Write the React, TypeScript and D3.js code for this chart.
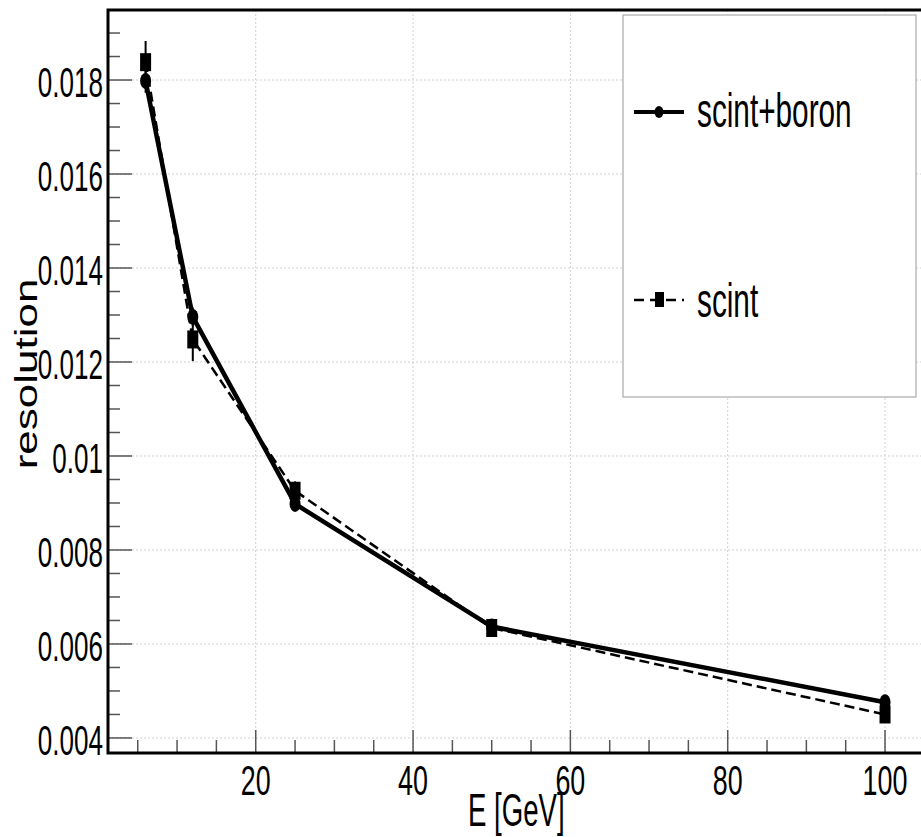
import React from "react";
import * as d3 from "d3";

const energies = [6, 12, 25, 50, 100];
const scintBoron = [0.01798, 0.01296, 0.00898, 0.00637, 0.00476];
const scintBoronErr = [0.00025, 0.0002, 0.00012, 0.00006, 0.00006];
const scint = [0.01838, 0.01248, 0.00926, 0.00634, 0.0045];
const scintErr = [0.00045, 0.00046, 0.0002, 0.00006, 0.00006];
const xTicks = [20, 40, 60, 80, 100];
const yTicks = [0.004, 0.006, 0.008, 0.01, 0.012, 0.014, 0.016, 0.018];
const yTickLabels = ["0.004", "0.006", "0.008", "0.01", "0.012", "0.014", "0.016", "0.018"];
const legendLabels = ["scint+boron", "scint"];

const W = 921;
const H = 837;
const FONT = "'Liberation Sans', Arial, Helvetica, sans-serif";
const SX = 0.62;

export default function App() {
  const left = 108, top = 10, bottom = 753;
  const x = d3.scaleLinear().domain([1.22, 105]).range([left, left + (105 - 1.22) * (885 - 255.7) / 80]);
  const y = d3.scaleLinear().domain([0.00368, 0.01949]).range([bottom, top]);
  const right = x(105);

  const minorX = d3.range(5, 105, 5);
  const minorY = d3.range(0.004, 0.0195, 0.0005).map((v) => +v.toFixed(4));

  const pts = (vals: number[]) => energies.map((e, i) => [x(e), y(vals[i])] as [number, number]);
  const line = d3.line();

  const sbPts = pts(scintBoron);
  const sPts = pts(scint);

  return (
    <svg width={W} height={H} style={{ position: "absolute", left: 0, top: 0, background: "#fff" }}>
      <rect x={0} y={0} width={W} height={H} fill="#fff" />
      {/* grid */}
      {xTicks.map((t) => (
        <line key={"gx" + t} x1={x(t)} x2={x(t)} y1={top} y2={bottom} stroke="#d0d0d0" strokeWidth={1} strokeDasharray="2,2" />
      ))}
      {yTicks.map((t) => (
        <line key={"gy" + t} x1={left} x2={right} y1={y(t)} y2={y(t)} stroke="#d0d0d0" strokeWidth={1} strokeDasharray="2,2" />
      ))}
      {/* ticks */}
      {minorY.map((t) => {
        const major = yTicks.some((m) => Math.abs(m - t) < 1e-7);
        return <line key={"ty" + t} x1={left} x2={left + (major ? 24 : 12)} y1={y(t)} y2={y(t)} stroke="#555" strokeWidth={1.5} />;
      })}
      {minorX.map((t) => {
        const major = t % 20 === 0;
        return <line key={"tx" + t} x1={x(t)} x2={x(t)} y1={bottom} y2={bottom - (major ? 23 : 13)} stroke="#555" strokeWidth={1.5} />;
      })}
      {/* frame */}
      <rect x={left} y={top} width={right - left} height={bottom - top} fill="none" stroke="#000" strokeWidth={3} />
      {/* tick labels */}
      {yTicks.map((t, i) => (
        <text key={"ly" + t} transform={`translate(${103},${y(t) + 17}) scale(${SX},1)`} textAnchor="end" fontFamily={FONT} fontSize={42} fill="#000">
          {yTickLabels[i]}
        </text>
      ))}
      {xTicks.map((t) => (
        <text key={"lx" + t} transform={`translate(${x(t)},${795}) scale(${SX + 0.02},1)`} textAnchor="middle" fontFamily={FONT} fontSize={42} fill="#000">
          {t}
        </text>
      ))}
      {/* axis titles */}
      <text transform={`translate(468,826) scale(0.6,1)`} fontFamily={FONT} fontSize={46} fill="#000">E [GeV]</text>
      <text transform={`translate(37,374) rotate(-90) scale(1,0.72)`} textAnchor="middle" fontFamily={FONT} fontSize={44} fill="#000">resolution</text>

      {/* series: scint (dashed, squares) */}
      <path d={line(sPts) || ""} fill="none" stroke="#000" strokeWidth={2.5} strokeDasharray="10,5" />
      {sPts.map(([px, py], i) => (
        <g key={"s" + i}>
          <line x1={px} x2={px} y1={y(scint[i] + scintErr[i])} y2={y(scint[i] - scintErr[i])} stroke="#000" strokeWidth={2} />
          <rect x={px - 5.5} y={py - 9} width={11} height={18} fill="#000" />
        </g>
      ))}
      {/* series: scint+boron (solid, circles) */}
      <path d={line(sbPts) || ""} fill="none" stroke="#000" strokeWidth={4.5} />
      {sbPts.map(([px, py], i) => (
        <g key={"sb" + i}>
          <line x1={px} x2={px} y1={y(scintBoron[i] + scintBoronErr[i])} y2={y(scintBoron[i] - scintBoronErr[i])} stroke="#000" strokeWidth={2} />
          <ellipse cx={px} cy={py} rx={5.5} ry={8} fill="#000" />
        </g>
      ))}

      {/* legend */}
      <rect x={623} y={15} width={293} height={382} fill="#fff" stroke="#aaa" strokeWidth={1.2} />
      <line x1={634} x2={684} y1={112} y2={112} stroke="#000" strokeWidth={4} />
      <ellipse cx={659} cy={112} rx={4.5} ry={6} fill="#000" />
      <text transform={`translate(697,127) scale(${SX},1)`} fontFamily={FONT} fontSize={48} fill="#000">{legendLabels[0]}</text>
      <line x1={634} x2={684} y1={300} y2={300} stroke="#000" strokeWidth={2.5} strokeDasharray="10,6" />
      <rect x={655} y={292} width={9} height={15} fill="#000" />
      <text transform={`translate(697,317) scale(${SX},1)`} fontFamily={FONT} fontSize={48} fill="#000">{legendLabels[1]}</text>
    </svg>
  );
}
